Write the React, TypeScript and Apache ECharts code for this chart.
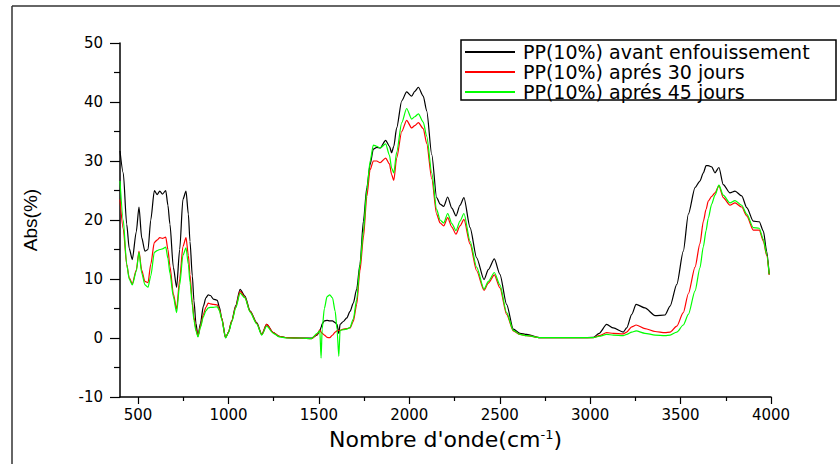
import React, { useEffect, useRef } from "react";
import * as echarts from "echarts";

const seriesNames = [
  "PP(10%) avant enfouissement",
  "PP(10%) aprés 30 jours",
  "PP(10%) aprés 45 jours",
];
const seriesColors = ["#000000", "#ff0000", "#00ff00"];

const wavenumber = [
  400, 418, 437, 451, 468, 490, 505, 520, 538, 555,
  570, 590, 605, 620, 635, 653, 665, 676, 695, 713,
  730, 748, 765, 778, 787, 800, 809, 820, 831, 845,
  861, 875, 888, 900, 916, 938, 950, 962, 984, 1000,
  1018, 1040, 1064, 1091, 1119, 1156, 1184, 1211, 1248, 1280,
  1322, 1400, 1460, 1490, 1505, 1512, 1518, 1530, 1545, 1560,
  1575, 1590, 1600, 1610, 1617, 1635, 1654, 1672, 1690, 1709,
  1727, 1746, 1765, 1783, 1801, 1820, 1838, 1869, 1890, 1902,
  1914, 1930, 1958, 1985, 2013, 2030, 2050, 2077, 2096, 2124,
  2151, 2170, 2190, 2212, 2235, 2258, 2280, 2302, 2336, 2372,
  2413, 2437, 2470, 2501, 2538, 2575, 2612, 2649, 2723, 2833,
  2950, 3017, 3050, 3091, 3128, 3183, 3202, 3230, 3254, 3303,
  3359, 3414, 3442, 3479, 3515, 3543, 3580, 3607, 3626, 3641,
  3653, 3672, 3690, 3712, 3736, 3773, 3801, 3838, 3866, 3902,
  3935, 3958, 3976, 3990,
];

const avant = [
  31.7, 28, 19.3, 15.2, 13.3, 18, 22.2, 17, 14.7, 15.0,
  20, 25.0, 24.3, 24.9, 24.4, 25.0, 22.5, 19.3, 12, 8.6,
  15, 23.5, 24.9, 21, 16.4, 10.5, 6.3, 2.5, 0.3, 2.5,
  5.4, 6.8, 7.3, 7.2, 6.6, 6.4, 5.2, 3.4, 0.05, 1.0,
  2.9, 5.5, 8.25, 7.1, 4.6, 2.6, 0.6, 2.3, 0.9, 0.3,
  0.05, 0, 0, 0.5, 1.2, 1.8, 2.4, 2.9, 3.0, 2.9,
  2.9, 2.6, 2.3, 0.8, 2.3, 2.8, 3.4, 4.5, 5.9, 8.3,
  12.5, 19.8, 25.5, 29.4, 32.0, 32.3, 32.2, 33.5, 32.5, 31.4,
  32.5, 35.6, 40.2, 41.7, 41.0, 41.8, 42.5, 41.0, 38.5, 31.1,
  23.8, 22.7, 22.3, 23.9, 22.0, 20.7, 22.5, 23.8, 18.7, 13.6,
  9.9, 11.6, 13.4, 10.8, 5.7, 1.5, 0.8, 0.6, 0.05, 0.05,
  0.05, 0.1, 0.8, 2.3, 1.7, 1.0, 1.7, 4.0, 5.7, 5.1,
  3.8, 3.9, 5.4, 9.1, 14.7, 21.0, 25.5, 26.6, 28.0, 29.2,
  29.2, 29.0, 28.0, 28.9, 26.0, 24.6, 24.9, 24.1, 22.1, 19.8,
  19.7, 18.1, 14.7, 10.8,
];

const apres30 = [
  23.5, 18.5, 12.5, 10.2, 9.2, 11.5, 14.7, 11.5, 9.6, 9.4,
  12.5, 16.2, 16.6, 17.0, 16.9, 17.1, 15, 12.2, 7.5, 4.9,
  10, 15.5, 17.0, 14, 10.8, 6, 3.5, 1.5, 0.3, 2.0,
  4.0, 5.2, 5.9, 5.8, 5.7, 5.6, 4.8, 3.4, 0.05, 1.0,
  2.9, 5.3, 7.9, 6.9, 4.5, 2.5, 0.6, 2.3, 0.9, 0.3,
  0.05, 0, -0.1, 0.6, 1.4, 1.0, 0.8, 0.5, 0.1, 0.05,
  0.5, 1.0, 1.2, 1.3, 1.3, 1.5, 1.6, 1.7, 2.8, 5.7,
  11.4, 17.0, 24, 28.5, 30.0, 30.0, 29.7, 30.5, 29.5, 27.7,
  26.7, 30.5, 35.0, 36.9, 35.6, 36.0, 36.5, 35.5, 33.0, 27.0,
  21.0, 19.5, 19.0, 20.4, 18.8, 17.6, 19.0, 20.1, 15.9, 11.4,
  8.1, 9.3, 10.7, 8.5, 4.0, 1.2, 0.6, 0.4, 0.05, 0.05,
  0.05, 0.05, 0.4, 0.9, 0.8, 0.7, 1.0, 1.9, 2.2, 1.6,
  1.1, 0.9, 1.0, 2.0, 4.3, 7.5, 12.0, 16.0, 19.8, 21.8,
  23.2, 24.0, 24.6, 25.8, 23.8, 22.5, 22.9, 22.2, 20.7, 18.3,
  18.3, 16.4, 14.0, 10.7,
];

const apres45 = [
  26.6, 20, 12.5, 10.0, 9.0, 11.3, 14.5, 11.0, 9.0, 8.6,
  10.5, 14.5, 14.8, 15.0, 15.1, 15.4, 13.5, 11, 7.0, 4.3,
  9, 14, 15.3, 12.5, 9.5, 5.5, 3.0, 1.2, 0.2, 1.8,
  3.6, 4.6, 5.1, 5.2, 5.2, 5.3, 4.6, 3.2, 0.0, 0.9,
  2.7, 5.1, 7.6, 6.8, 4.4, 2.4, 0.5, 2.0, 0.8, 0.2,
  0.0, 0, -0.1, 0.8, 1.2, -3.4, 1.5, 5.0, 7.0, 7.3,
  6.8, 4.5, 1.5, -3.1, 1.3, 1.4, 1.5, 1.8, 3.2, 6.5,
  12.3, 18.1, 25, 30.0, 32.7, 32.5, 32.2, 32.9, 31.0, 28.8,
  28.0, 31.5, 36.5, 38.9, 37.1, 37.5, 38.0, 36.6, 34.2, 28.0,
  21.8, 20.0, 19.5, 21.1, 19.4, 18.2, 19.8, 21.1, 16.4, 12.0,
  8.3, 9.6, 11.1, 9.0, 4.3, 1.3, 0.6, 0.4, 0.05, 0.05,
  0.05, 0.05, 0.3, 0.6, 0.5, 0.4, 0.6, 1.0, 1.2, 0.8,
  0.5, 0.4, 0.5, 1.0, 2.2, 4.0, 8.0, 11.9, 15.5, 18.2,
  20.3, 22.7, 24.2, 25.9, 24.2, 22.9, 23.3, 22.5, 21.0, 18.7,
  18.6, 16.7, 14.2, 10.8,
];

const xTickValues = [500, 1000, 1500, 2000, 2500, 3000, 3500, 4000];
const xMinorTickValues = [750, 1250, 1750, 2250, 2750, 3250, 3750];

const allSeries = [avant, apres30, apres45];

export default function App() {
  const ref = useRef<HTMLDivElement>(null);

  useEffect(() => {
    if (!ref.current) return;
    const chart = echarts.init(ref.current, null, { renderer: "svg" });
    const axisFont = "DejaVu Sans";
    const plain = (v: number) => String(v);
    const option: any = {
      animation: false,
      backgroundColor: "#ffffff",
      grid: { left: 120, right: 69, top: 43, bottom: 67, containLabel: false },
      legend: {
        orient: "vertical",
        left: 464,
        top: 42.5,
        padding: 0,
        itemGap: 1,
        itemWidth: 50,
        itemHeight: 14,
        selectedMode: false,
        itemStyle: { opacity: 0, borderWidth: 0 },
        textStyle: {
          fontFamily: axisFont,
          fontSize: 19,
          lineHeight: 19,
          color: "#000",
          padding: [0, 0, 0, 3],
        },
        data: seriesNames.map((n) => ({ name: n })),
      },
      xAxis: [
        {
          type: "value",
          min: 400,
          max: 4000,
          name: "Nombre d'onde(cm{sup|-1})",
          nameLocation: "middle",
          nameGap: 31,
          nameTextStyle: {
            fontFamily: axisFont,
            fontSize: 22,
            color: "#000",
            rich: {
              sup: {
                fontFamily: axisFont,
                fontSize: 13,
                color: "#000",
                verticalAlign: "top",
              },
            },
          },
          axisLine: { show: true, onZero: false, lineStyle: { color: "#000", width: 1.5 } },
          axisTick: {
            show: true,
            inside: false,
            length: 7,
            customValues: xTickValues,
            lineStyle: { color: "#000", width: 1.2 },
          },
          axisLabel: {
            show: true,
            customValues: xTickValues,
            formatter: plain,
            margin: 10,
            fontFamily: axisFont,
            fontSize: 15,
            color: "#000",
          },
          splitLine: { show: false },
        },
        {
          type: "value",
          min: 400,
          max: 4000,
          position: "bottom",
          axisLine: { show: false, onZero: false },
          axisTick: {
            show: true,
            inside: false,
            length: 4,
            customValues: xMinorTickValues,
            lineStyle: { color: "#000", width: 1.2 },
          },
          axisLabel: { show: false },
          splitLine: { show: false },
        },
      ],
      yAxis: {
        type: "value",
        min: -10,
        max: 50,
        interval: 10,
        name: "Abs(%)",
        nameLocation: "middle",
        nameGap: 80,
        nameRotate: 90,
        nameTextStyle: {
          fontFamily: "Liberation Sans",
          fontSize: 19,
          color: "#000",
        },
        axisLine: { show: true, onZero: false, lineStyle: { color: "#000", width: 1.5 } },
        axisTick: { show: true, inside: false, length: 10, lineStyle: { color: "#000", width: 1.2 } },
        minorTick: { show: true, splitNumber: 2, length: 6, lineStyle: { color: "#000", width: 1.2 } },
        axisLabel: {
          margin: 17,
          formatter: plain,
          fontFamily: axisFont,
          fontSize: 15,
          color: "#000",
        },
        splitLine: { show: false },
        minorSplitLine: { show: false },
      },
      graphic: [
        {
          type: "line",
          shape: { x1: 12, y1: 6, x2: 840, y2: 6 },
          style: { stroke: "#333", lineWidth: 1.5 },
          silent: true,
        },
        {
          type: "line",
          shape: { x1: 12, y1: 6, x2: 12, y2: 464 },
          style: { stroke: "#333", lineWidth: 1.5 },
          silent: true,
        },
        {
          type: "rect",
          shape: { x: 461, y: 40, width: 375, height: 60 },
          style: { fill: "#fff", stroke: "#000", lineWidth: 1.5 },
          z: 0,
          silent: true,
        },
      ],
      series: seriesNames.map((name, i) => ({
        name,
        type: "line",
        xAxisIndex: 0,
        data: wavenumber.map((w, k) => [w, allSeries[i][k]]),
        symbol: "none",
        showSymbol: false,
        smooth: 0.25,
        smoothMonotone: "x",
        lineStyle: { color: seriesColors[i], width: 1.2 },
        itemStyle: { color: seriesColors[i] },
        z: 2 + i,
      })),
    };
    chart.setOption(option);
    return () => chart.dispose();
  }, []);

  return (
    <div
      ref={ref}
      style={{ position: "fixed", left: 0, top: 0, width: 840, height: 464, background: "#fff" }}
    />
  );
}
